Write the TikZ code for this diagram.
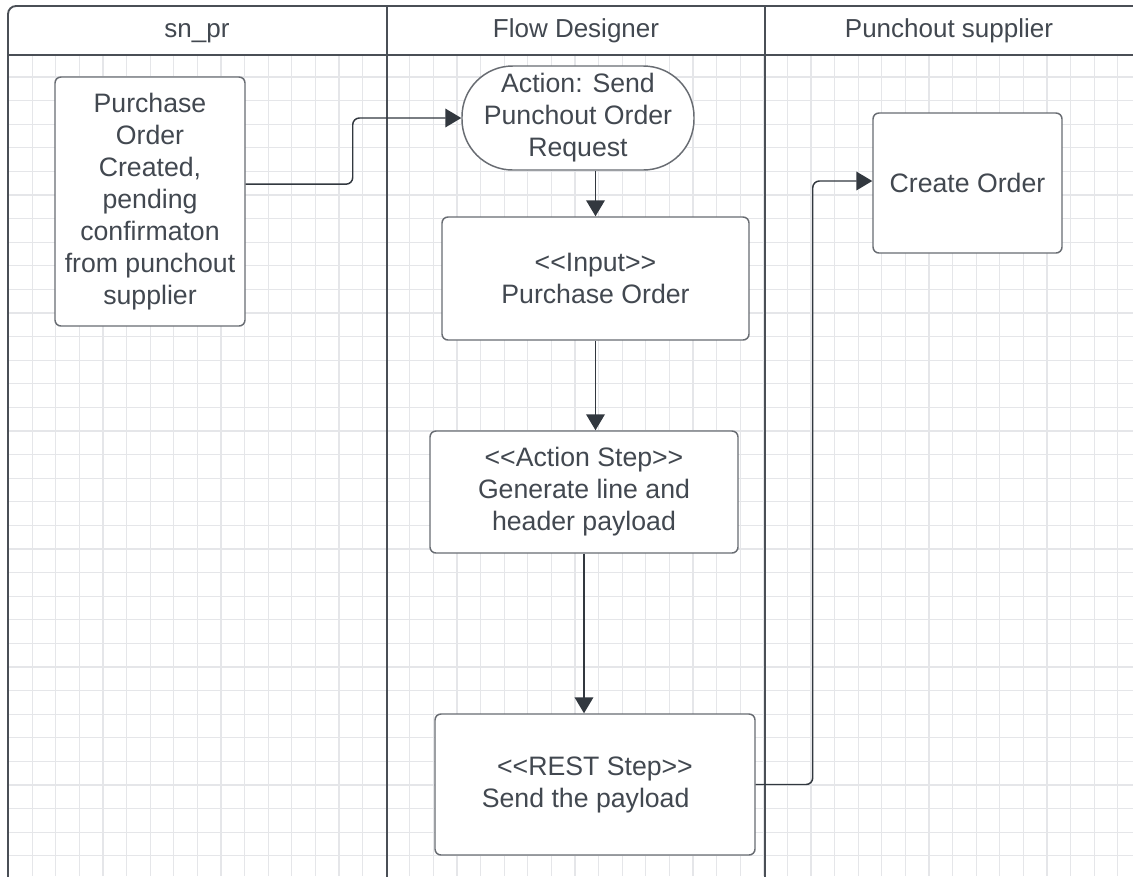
\documentclass[tikz,border=0pt]{standalone}
\usepackage{fontspec}
\setmainfont{Liberation Sans}
\usepackage{tikz}
\usetikzlibrary{
  arrows.meta,
  positioning
}
\definecolor{laneink}{RGB}{74,79,86}
\definecolor{boxink}{RGB}{104,108,114}
\definecolor{textgray}{RGB}{66,72,80}
\definecolor{tipgray}{RGB}{50,56,63}
\definecolor{gridgray}{RGB}{229,230,233}
\newcommand{\guil}[1]{<\kern0pt<#1>\kern0pt>}
\tikzset{
  lane/.style={draw=laneink,line width=1.4pt},
  lanehead/.style={font=\fontsize{19.5}{22}\selectfont,text=textgray,inner sep=0pt,
    anchor=base},
  stepbox/.style={draw=boxink,line width=1.1pt,fill=white,rounded corners=4.5pt,
    align=center,inner sep=0pt,text=textgray,font=\fontsize{20}{24}\selectfont},
  startbox/.style={stepbox,rounded corners=38pt},
  flow/.style={-{Triangle[length=12pt,width=14pt]},line width=1.1pt,draw=boxink,
    color=tipgray,rounded corners=5pt},
  gridline/.style={draw=gridgray,line width=0.8pt}
}

\begin{document}
\begin{tikzpicture}[x=0.75pt,y=-0.75pt]
  \useasboundingbox (0,0) rectangle (1133,876);
  \clip (0,0) rectangle (1133,876);
  \fill[white] (0,0) rectangle (1133,876);
  % background grid
  \foreach \k in {1,...,47}
    \draw[gridline] (8.6+23.6*\k,55) -- (8.6+23.6*\k,876);
  \foreach \k in {0,...,34}
    \draw[gridline] (8,77+23.6*\k) -- (1133,77+23.6*\k);
  % pool and lanes
  \draw[lane,rounded corners=6pt] (8,880) -- (8,6) -- (1140,6);
  \draw[lane] (8,55) -- (1140,55);
  \draw[lane] (387,6) -- (387,880);
  \draw[lane] (765,6) -- (765,880);
  \node[lanehead] (hpr) at (197,37) {sn\_pr};
  \node[lanehead] (hflow) at (576,37) {Flow Designer};
  \node[lanehead] (hsupp) at (949,37) {Punchout supplier};
  % steps
  \node[stepbox,minimum width=142.5pt,minimum height=186.75pt] (po) at (150,201.5)
    {Purchase\\Order\\Created,\\pending\\confirmaton\\from punchout\\supplier};
  \node[startbox,minimum width=174pt,minimum height=78pt] (send) at (578,118)
    {Action: Send\\Punchout Order\\Request};
  \node[stepbox,minimum width=230.25pt,minimum height=92.25pt] (input) at (595.5,278.5)
    {\guil{Input}\\Purchase Order};
  \node[stepbox,minimum width=231pt,minimum height=91.5pt] (gen) at (584,492)
    {\guil{Action Step}\\Generate line and\\header payload};
  \node[stepbox,minimum width=240pt,minimum height=105.75pt] (rest) at (595,784.5)
    {\guil{REST Step}\\Send the payload\hspace*{14pt}};
  \node[stepbox,minimum width=141.75pt,minimum height=105pt] (create) at (967.5,183)
    {Create Order};
  % connectors
  \draw[flow] ([yshift=13pt]po.east) -- ++(107,0) |- (send.west);
  \draw[flow] (input.north |- send.south) -- (input.north);
  \draw[flow] (input.south) -- (input.south |- gen.north);
  \draw[flow] (gen.south) -- (gen.south |- rest.north);
  \draw[flow] (rest.east) -- ++(57,0) |- ([yshift=1.5pt]create.west);
\end{tikzpicture}
\end{document}
